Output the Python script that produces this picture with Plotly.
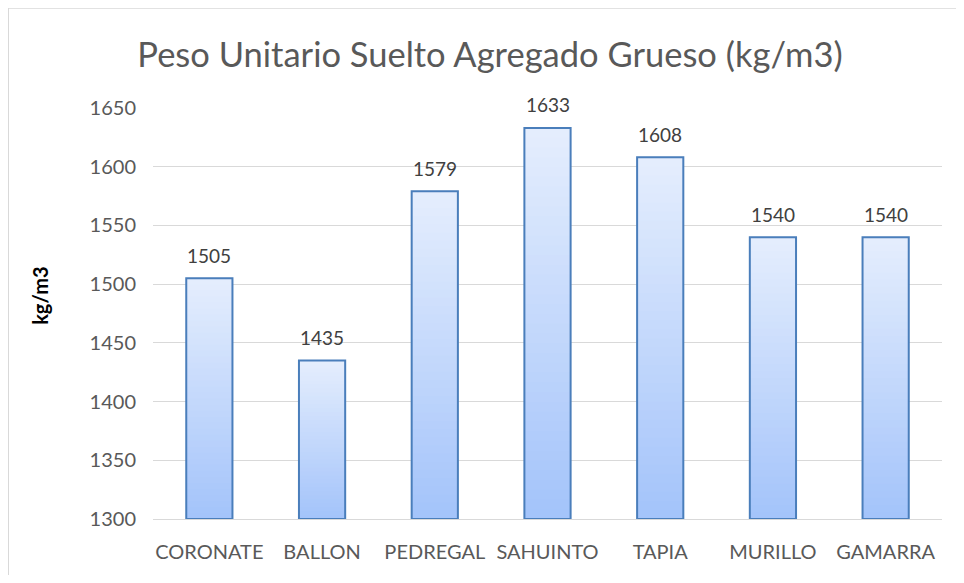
import plotly.graph_objects as go

categories = ["CORONATE", "BALLON", "PEDREGAL", "SAHUINTO", "TAPIA", "MURILLO", "GAMARRA"]
values = [1505, 1435, 1579, 1633, 1608, 1540, 1540]
y_min, y_max, y_step = 1300, 1650, 50

FONT = "Lato"
top_rgb = (0xE5, 0xEE, 0xFD)
bot_rgb = (0xA3, 0xC3, 0xFA)
N = 40

W, H = 948, 567
L, R, T, B = 145, 14, 100, 53
plot_w = W - L - R
plot_h = H - T - B

fig = go.Figure()
for k in range(N):
    t = (k + 0.5) / N
    c = tuple(round(b + (tp - b) * t) for b, tp in zip(bot_rgb, top_rgb))
    fig.add_trace(go.Bar(
        x=categories,
        base=[y_min + (v - y_min) * k / N for v in values],
        y=[(v - y_min) / N * (2.0 if k < N - 1 else 1.0) for v in values],
        marker=dict(color="rgb(%d,%d,%d)" % c, line=dict(width=0)),
        hoverinfo="skip", showlegend=False,
    ))

fig.add_trace(go.Bar(
    x=categories, base=[y_min] * len(values), y=[v - y_min for v in values],
    marker=dict(color="rgba(0,0,0,0)", line=dict(color="#4A7EBB", width=2)),
    showlegend=False,
    hovertemplate="%{x}: %{customdata}<extra></extra>", customdata=values,
))

for c, v in zip(categories, values):
    fig.add_annotation(x=c, y=v, text=str(v), showarrow=False, yshift=23,
                       font=dict(family=FONT, size=19, color="#404040"))

fig.add_annotation(xref="paper", yref="paper", x=(32 - L) / plot_w, y=0.543, text="<b>kg/m3</b>",
                   textangle=-90, showarrow=False, xanchor="center", yanchor="middle",
                   font=dict(family=FONT, size=20, color="#000000"))

fig.add_shape(type="rect", xref="paper", yref="paper",
              x0=-L / plot_w, x1=2, y0=-1, y1=(plot_h + T + 1) / plot_h,
              line=dict(color="#D9D9D9", width=2), fillcolor="rgba(0,0,0,0)", layer="below")

fig.update_layout(
    width=W, height=H,
    margin=dict(l=L, r=R, t=T, b=B),
    paper_bgcolor="white", plot_bgcolor="white",
    barmode="overlay", bargap=0.59,
    title=dict(text="Peso Unitario Suelto Agregado Grueso (kg/m3)", x=(482) / W, xanchor="center",
               y=1 - 47 / H, yanchor="middle",
               font=dict(family=FONT, size=34.5, color="#595959")),
    xaxis=dict(showgrid=False, showline=True, linecolor="#D9D9D9", linewidth=1,
               tickfont=dict(family=FONT, size=20, color="#595959"), ticks="",
               ticklabelstandoff=15),
    yaxis=dict(range=[y_min, y_max], dtick=y_step, tick0=y_min, showgrid=True,
               gridcolor="#D9D9D9", gridwidth=1, zeroline=False, showline=False,
               tickfont=dict(family=FONT, size=20, color="#595959"), ticks="",
               ticklabelstandoff=16),
    font=dict(family=FONT),
)

fig.write_html("out.html")
